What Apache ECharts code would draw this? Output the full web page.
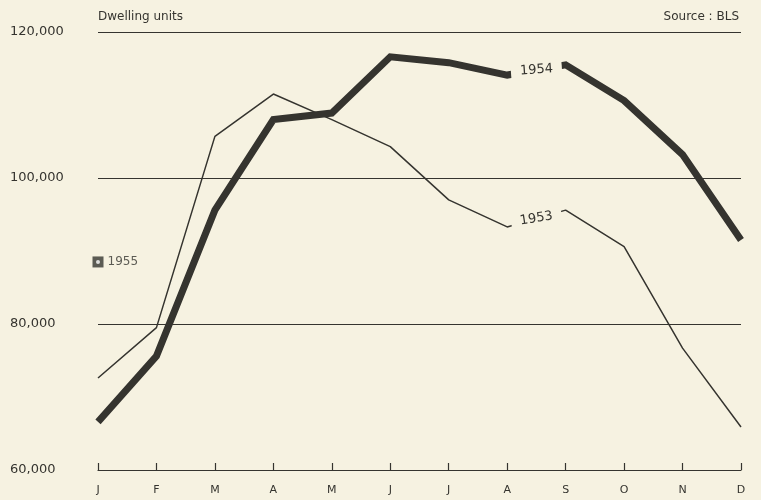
<!DOCTYPE html>
<html><head><meta charset="utf-8">
<script src="https://cdn.jsdelivr.net/npm/echarts@6/dist/echarts.min.js"></script>
<style>html,body{margin:0;padding:0;background:#f6f2e1;}#c{width:761px;height:500px;}</style>
</head><body><div id="c"></div>
<script>
const categories = ['Jan','Feb','Mar','Apr','May','Jun','Jul','Aug','Sep','Oct','Nov','Dec'];
const monthLabels = ['J','F','M','A','M','J','J','A','S','O','N','D'];
const yTicks = [60000, 80000, 100000, 120000];
const units1954 = [66600, 75600, 95600, 108000, 108900, 116600, 115800, 114100, 115500, 110600, 103200, 91500];
const units1953 = [72600, 79500, 105700, 111500, 108000, 104300, 97000, 93300, 95600, 90600, 76700, 65900];
const units1955 = [88500, null, null, null, null, null, null, null, null, null, null, null];

const bg = '#f6f2e1';
const ink = '#35342f';
const font = 'DejaVu Sans';

const chart = echarts.init(document.getElementById('c'));
chart.setOption({
  backgroundColor: bg,
  animation: false,
  textStyle: {fontFamily: font, color: ink},
  grid: {left: 98, right: 20, top: 32, bottom: 30, containLabel: false},
  title: [
    {text: 'Dwelling units', left: 93, top: 6, textStyle: {fontFamily: font, fontSize: 12, fontWeight: 'normal', color: ink}},
    {text: 'Source : BLS', right: 17, top: 6, textStyle: {fontFamily: font, fontSize: 12, fontWeight: 'normal', color: ink}}
  ],
  xAxis: {
    type: 'category', data: categories, boundaryGap: false,
    axisLine: {lineStyle: {color: ink, width: 1.2}},
    axisTick: {inside: true, length: 7, lineStyle: {color: ink, width: 1.2}},
    axisLabel: {formatter: (v, i) => monthLabels[i], fontSize: 11, color: ink, margin: 15},
    splitLine: {show: false}
  },
  yAxis: {
    type: 'value', min: yTicks[0], max: yTicks[yTicks.length - 1], interval: 20000,
    axisLine: {show: false}, axisTick: {show: false},
    axisLabel: {align: 'left', margin: 88, fontSize: 13, color: ink,
      formatter: v => v.toLocaleString('en-US')},
    splitLine: {lineStyle: {color: ink, width: 1.1}}
  },
  series: [
    {name: '1953', type: 'line', data: units1953, showSymbol: false, symbol: 'none',
      lineStyle: {color: ink, width: 1.5}, z: 3},
    {name: '1954', type: 'line', data: units1954, showSymbol: false, symbol: 'none',
      lineStyle: {color: ink, width: 7, join: 'miter', cap: 'butt'}, z: 4},
    {name: '1955', type: 'scatter', data: units1955, symbol: 'rect', symbolSize: 11,
      itemStyle: {color: ink}, z: 5,
      label: {show: true, position: 'right', distance: 4, formatter: '1955', fontSize: 12, color: ink}},
    {name: '1955dot', type: 'scatter', data: units1955, symbol: 'circle', symbolSize: 4,
      itemStyle: {color: '#ffffff'}, z: 6, silent: true}
  ]
});

function midLabel(text, vals, rot) {
  const a = chart.convertToPixel({seriesIndex: 0}, [7, vals[7]]);
  const b = chart.convertToPixel({seriesIndex: 0}, [8, vals[8]]);
  return {
    type: 'text', x: (a[0] + b[0]) / 2, y: (a[1] + b[1]) / 2, rotation: rot * Math.PI / 180, z: 100,
    style: {text: text, font: '13px "' + font + '"', fill: ink, align: 'center', verticalAlign: 'middle',
      backgroundColor: bg, padding: [3, 9, 3, 9]}
  };
}
chart.setOption({graphic: [
  midLabel('1954', units1954, 4),
  midLabel('1953', units1953, 9)
]});
</script></body></html>
